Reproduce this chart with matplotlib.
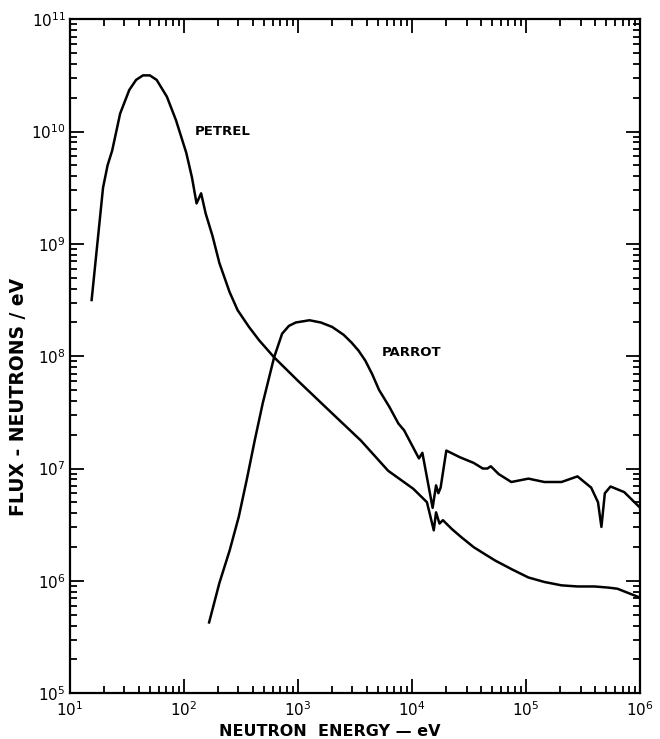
import numpy as np
import matplotlib
matplotlib.use("Agg")
from matplotlib import pyplot as plt
from matplotlib.ticker import LogLocator, NullFormatter

# log10 values
petrel_logE = [1.19, 1.29, 1.33, 1.37, 1.44, 1.52, 1.58, 1.64, 1.70, 1.76, 1.85,
               1.93, 2.02, 2.07, 2.11, 2.15, 2.19, 2.25, 2.31, 2.40, 2.47, 2.57, 2.66,
               2.79, 3.00, 3.30, 3.55, 3.79, 3.90, 4.01, 4.13, 4.19, 4.21, 4.24, 4.27,
               4.35, 4.43, 4.54, 4.65, 4.73, 4.88, 5.02, 5.16, 5.31, 5.45, 5.60, 5.72,
               5.80, 5.90, 6.00]
petrel_logF = [8.50, 9.50, 9.70, 9.83, 10.16, 10.37, 10.46, 10.50, 10.50, 10.46, 10.31,
               10.10, 9.81, 9.59, 9.36, 9.45, 9.27, 9.07, 8.83, 8.57, 8.41, 8.26, 8.14,
               7.99, 7.78, 7.49, 7.25, 6.98, 6.90, 6.82, 6.70, 6.45, 6.61, 6.51, 6.54,
               6.46, 6.39, 6.30, 6.23, 6.18, 6.10, 6.03, 5.99, 5.96, 5.95, 5.95, 5.94,
               5.93, 5.89, 5.85]

parrot_logE = [2.22, 2.31, 2.40, 2.48, 2.55, 2.62, 2.69, 2.79, 2.86, 2.92, 2.98, 3.10,
               3.20, 3.30, 3.40, 3.47, 3.53, 3.59, 3.65, 3.71, 3.80, 3.88, 3.93, 4.06,
               4.09, 4.18, 4.21, 4.23, 4.25, 4.30, 4.42, 4.54, 4.62, 4.66, 4.69, 4.76,
               4.87, 5.02, 5.16, 5.31, 5.45, 5.57, 5.63, 5.66, 5.69, 5.74, 5.86, 6.00]
parrot_logF = [5.63, 5.98, 6.27, 6.57, 6.90, 7.25, 7.58, 7.99, 8.20, 8.27, 8.30, 8.32,
               8.30, 8.26, 8.19, 8.12, 8.05, 7.96, 7.84, 7.70, 7.55, 7.40, 7.34, 7.09,
               7.14, 6.65, 6.85, 6.78, 6.83, 7.16, 7.10, 7.05, 7.00, 7.00, 7.02, 6.95,
               6.88, 6.91, 6.88, 6.88, 6.93, 6.83, 6.70, 6.48, 6.78, 6.84, 6.79, 6.65]

labels = ["PETREL", "PARROT"]
label_E = [123, 5400]
label_F = [1.0e10, 1.07e8]

fig = plt.figure(figsize=(6.6, 7.39), dpi=100)
ax = fig.add_axes([0.106, 0.062, 0.864, 0.912])

ax.plot(10 ** np.array(petrel_logE), 10 ** np.array(petrel_logF), color="black", lw=1.8)
ax.plot(10 ** np.array(parrot_logE), 10 ** np.array(parrot_logF), color="black", lw=1.8)

for name, e, f in zip(labels, label_E, label_F):
    ax.text(e, f, name, fontsize=9.5, fontweight="bold", va="center", ha="left")

ax.set_xscale("log")
ax.set_yscale("log")
ax.set_xlim(1e1, 1e6)
ax.set_ylim(1e5, 1e11)

ax.xaxis.set_major_locator(LogLocator(base=10, numticks=10))
ax.yaxis.set_major_locator(LogLocator(base=10, numticks=10))
ax.xaxis.set_minor_locator(LogLocator(base=10, subs=np.arange(2, 10), numticks=20))
ax.yaxis.set_minor_locator(LogLocator(base=10, subs=np.arange(2, 10), numticks=20))
ax.xaxis.set_minor_formatter(NullFormatter())
ax.yaxis.set_minor_formatter(NullFormatter())

ax.tick_params(which="both", direction="in", top=True, right=True, width=1.3, labelsize=11)
ax.tick_params(which="major", length=10)
ax.tick_params(which="minor", length=5)
ax.tick_params(axis="x", pad=5)
ax.tick_params(axis="y", pad=3)
for s in ax.spines.values():
    s.set_linewidth(1.6)

ax.set_xlabel("NEUTRON  ENERGY \u2014 eV", fontsize=11.5, fontweight="bold")
ax.set_ylabel("FLUX - NEUTRONS / eV", fontsize=13.5, fontweight="bold")
ax.xaxis.set_label_coords(0.456, -0.045)
ax.yaxis.set_label_coords(-0.074, 0.44)

fig.savefig("out.png", dpi=100)
